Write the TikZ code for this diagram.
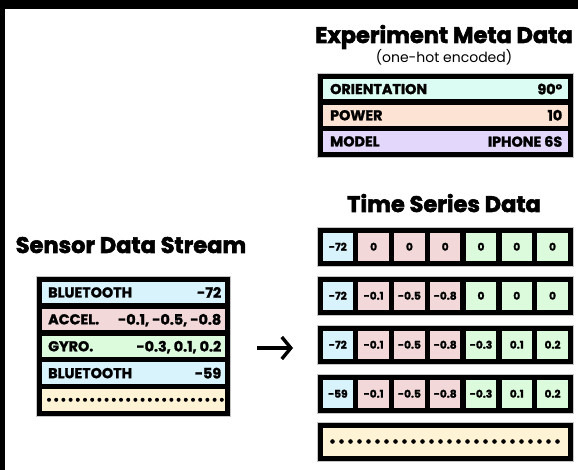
\documentclass[tikz,border=0pt]{standalone}
\usepackage{fontspec}
\setmainfont{Poppins}[BoldFeatures={FakeBold=1.5}]
\newfontfamily\titlefont{Poppins}[BoldFeatures={FakeBold=2.5}]
\usetikzlibrary{arrows.meta}
\definecolor{mint}{HTML}{DAFCF2}
\definecolor{peach}{HTML}{FDE3D3}
\definecolor{lavender}{HTML}{E3D8FC}
\definecolor{tsblue}{HTML}{D8F3FC}
\definecolor{tspink}{HTML}{F2D8D8}
\definecolor{tsgreen}{HTML}{DCFADC}
\definecolor{cream}{HTML}{FFF3D5}
\colorlet{cell0}{tsblue}
\colorlet{cell1}{tspink}
\colorlet{cell2}{tspink}
\colorlet{cell3}{tspink}
\colorlet{cell4}{tsgreen}
\colorlet{cell5}{tsgreen}
\colorlet{cell6}{tsgreen}
\begin{document}
\begin{tikzpicture}[x=1pt,y=-1pt,
  title/.style={anchor=base, inner sep=0pt, font=\titlefont\bfseries\fontsize{22.5}{26}\selectfont},
  frame/.style={fill=black, draw=gray!45, line width=0.6pt, anchor=north west, inner sep=0pt},
  band/.style={anchor=north west, inner sep=0pt},
  lbl/.style={inner sep=0pt, text depth=0pt, font=\bfseries\fontsize{14.3}{16}\selectfont},
  cellbox/.style={anchor=north west, inner sep=0pt, text depth=0pt, minimum width=30.29pt, minimum height=28pt, font=\bfseries\fontsize{10.6}{12}\selectfont},
  dot/.style={fill=black}
]
\useasboundingbox (0,0) rectangle (578,470);
\fill[white] (0,0) rectangle (578,470);
\fill[black] (0,0) rectangle (578,9);
\fill[black] (0,0) rectangle (5,470);

% ---------- Experiment meta data ----------
\node[title] (metatitle) at (444,43) {Experiment Meta Data};
\node[anchor=base, inner sep=0pt, font=\fontsize{14}{17}\selectfont] (metasub) at (444,63) {(one-hot encoded)};
\node[frame, minimum width=256pt, minimum height=84pt] (metabox) at (317,73) {};
\node[band, fill=mint, minimum width=245pt, minimum height=20.67pt] (orient) at (322.5,78.5) {};
\node[band, fill=peach, minimum width=245pt, minimum height=20.67pt] (power) at (322.5,104.67) {};
\node[band, fill=lavender, minimum width=245pt, minimum height=20.67pt] (model) at (322.5,130.83) {};
\node[lbl, anchor=west] (orientL) at ([xshift=7.5pt]orient.west) {ORIENTATION};
\node[lbl, anchor=east] (orientV) at ([xshift=-5.5pt]orient.east) {90°};
\node[lbl, anchor=west] (powerL) at ([xshift=7.5pt]power.west) {POWER};
\node[lbl, anchor=east] (powerV) at ([xshift=-5.5pt]power.east) {10};
\node[lbl, anchor=west] (modelL) at ([xshift=7.5pt]model.west) {MODEL};
\node[lbl, anchor=east] (modelV) at ([xshift=-5.5pt]model.east) {IPHONE 6S};

% ---------- Sensor data stream ----------
\node[title] (senstitle) at (131,253) {Sensor Data Stream};
\node[frame, minimum width=194pt, minimum height=140pt] (sensbox) at (36,276) {};
\node[band, fill=tsblue, minimum width=183pt, minimum height=21.4pt] (s1) at (41.5,281.5) {};
\node[band, fill=tspink, minimum width=183pt, minimum height=21.4pt] (s2) at (41.5,308.4) {};
\node[band, fill=tsgreen, minimum width=183pt, minimum height=21.4pt] (s3) at (41.5,335.3) {};
\node[band, fill=tsblue, minimum width=183pt, minimum height=21.4pt] (s4) at (41.5,362.2) {};
\node[band, fill=cream, minimum width=183pt, minimum height=21.4pt] (s5) at (41.5,389.1) {};
\node[lbl, anchor=west] (s1L) at ([xshift=6.5pt]s1.west) {BLUETOOTH};
\node[lbl, anchor=east] (s1V) at ([xshift=-3.5pt]s1.east) {-72};
\node[lbl, anchor=west] (s2L) at ([xshift=6.5pt]s2.west) {ACCEL.};
\node[lbl, anchor=east] (s2V) at ([xshift=-3.5pt]s2.east) {-0.1, -0.5, -0.8};
\node[lbl, anchor=west] (s3L) at ([xshift=6.5pt]s3.west) {GYRO.};
\node[lbl, anchor=east] (s3V) at ([xshift=-3.5pt]s3.east) {-0.3, 0.1, 0.2};
\node[lbl, anchor=west] (s4L) at ([xshift=6.5pt]s4.west) {BLUETOOTH};
\node[lbl, anchor=east] (s4V) at ([xshift=-3.5pt]s4.east) {-59};
\foreach \k in {0,...,24} \fill[dot] ({49+7.2*\k},399.8) circle (2pt);

% ---------- arrow ----------
\coordinate (arrS) at (257,348);
\coordinate (arrE) at (293,348);
\draw[line width=3.4pt, -{Straight Barb[length=9pt,width=22pt,line width=3.4pt]}] (arrS) -- (arrE);

% ---------- Time series data ----------
\node[title] (tstitle) at (444,212) {Time Series Data};
\foreach \vals [count=\r from 0] in {{-72,0,0,0,0,0,0},{-72,-0.1,-0.5,-0.8,0,0,0},{-72,-0.1,-0.5,-0.8,-0.3,0.1,0.2},{-59,-0.1,-0.5,-0.8,-0.3,0.1,0.2}} {
  \node[frame, minimum width=256pt, minimum height=39pt] (tsrow\r) at (317,{227+49*\r}) {};
  \foreach \v [count=\c from 0] in \vals {
    \node[cellbox, fill=cell\c] (cell\r\c) at ({322.5+35.786*\c},{232.5+49*\r}) {\v};
  }
}
\node[frame, minimum width=256pt, minimum height=39pt] (tsdots) at (317,422) {};
\node[band, fill=cream, minimum width=245pt, minimum height=28pt] (tsdotsin) at (322.5,427.5) {};
\foreach \k in {0,...,25} \fill[dot] ({332.5+9*\k},441.5) circle (2.3pt);
\end{tikzpicture}
\end{document}
